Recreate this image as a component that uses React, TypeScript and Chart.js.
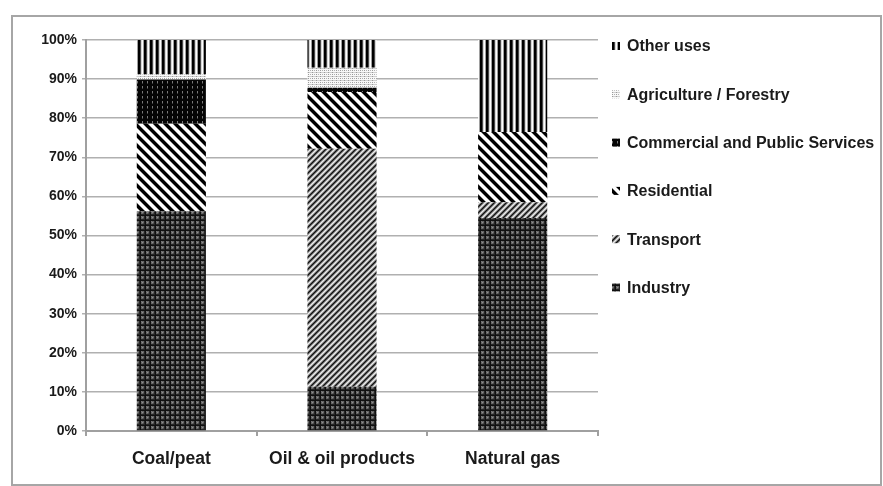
import React, { useEffect, useRef } from "react";
import { Chart, registerables } from "chart.js";

Chart.register(...registerables);

// ---- Data (percent shares of final consumption by sector) ----
const categories = ["Coal/peat", "Oil & oil products", "Natural gas"];
const seriesNames = [
  "Industry",
  "Transport",
  "Residential",
  "Commercial and Public Services",
  "Agriculture / Forestry",
  "Other uses",
];
const industry = [56.2, 11.3, 54.5];
const transport = [0, 60.9, 4.0];
const residential = [22.4, 14.5, 18.0];
const commercial = [11.3, 1.1, 0];
const agriculture = [1.3, 5.1, 0];
const otherUses = [8.8, 7.1, 23.5];
const yTickValues = [0, 10, 20, 30, 40, 50, 60, 70, 80, 90, 100];

const FONT = '"Liberation Sans", Arial, sans-serif';
const TEXT = "#1a1a1a";

type ColorFn = (x: number, y: number) => string;

function makePattern(ctx: CanvasRenderingContext2D, w: number, h: number, fn: ColorFn): CanvasPattern | string {
  const c = document.createElement("canvas");
  c.width = w;
  c.height = h;
  const g = c.getContext("2d")!;
  for (let y = 0; y < h; y++) {
    for (let x = 0; x < w; x++) {
      g.fillStyle = fn(x, y);
      g.fillRect(x, y, 1, 1);
    }
  }
  return ctx.createPattern(c, "repeat") || "#555";
}

function buildPatterns(ctx: CanvasRenderingContext2D) {
  // Industry: dark grid with gray squares
  const ind = makePattern(ctx, 5, 5, (x, y) => {
    if (x === 0 || y === 0) return "#101010";
    if (x === 4 || y === 4) return "#262626";
    if (x === 2 && y === 2) return "#8e8e8e";
    if (x === 1 && y === 1) return "#7a7a7a";
    if (x === 3 && y === 3) return "#4a4a4a";
    return "#666666";
  });
  // Transport: "/" diagonal fine stripes
  const trCols = ["#101010", "#555555", "#a8a8a8", "#eeeeee", "#bdbdbd", "#686868"];
  const tr = makePattern(ctx, 6, 6, (x, y) => trCols[(x + y) % 6]);
  // Residential: "\" broad black stripes on white
  const res = makePattern(ctx, 10, 10, (x, y) => {
    const d = (x - y + 100) % 10;
    if (d < 4) return "#000000";
    if (d === 4 || d === 9) return "#8a8a8a";
    return "#ffffff";
  });
  // Commercial: black with small gray dots
  const com = makePattern(ctx, 5, 5, (x, y) => {
    if (x === 2 && (y === 1 || y === 2)) return "#7a7a7a";
    if (x === 2 && y === 3) return "#404040";
    return "#050505";
  });
  // Agriculture: light dotted grid
  const agr = makePattern(ctx, 4, 4, (x, y) => {
    if (x === 0 && y % 2 === 0) return "#9a9a9a";
    if (y === 2 && x === 2) return "#b0b0b0";
    if (y === 0) return "#d0d0d0";
    return "#f8f8f8";
  });
  // Other uses: vertical stripes
  const othCols = ["#000000", "#000000", "#4a4a4a", "#d8d8d8", "#ffffff", "#a0a0a0"];
  const oth = makePattern(ctx, 6, 1, (x) => othCols[x]);
  return [ind, tr, res, com, agr, oth];
}

const framePlugin = {
  id: "frame",
  beforeDraw(chart: any) {
    const ctx = chart.ctx as CanvasRenderingContext2D;
    ctx.save();
    ctx.fillStyle = "#ffffff";
    ctx.fillRect(0, 0, chart.width, chart.height);
    ctx.strokeStyle = "#a6a6a6";
    ctx.lineWidth = 2;
    ctx.strokeRect(12, 16, 869, 469);
    ctx.restore();
  },
};

const sideLegendPlugin = {
  id: "sideLegend",
  afterDraw(chart: any) {
    const ctx = chart.ctx as CanvasRenderingContext2D;
    const ds = chart.data.datasets;
    const n = ds.length;
    const top = 46;
    const gap = 48.3;
    ctx.save();
    ctx.font = `bold 16px ${FONT}`;
    ctx.textBaseline = "middle";
    ctx.textAlign = "left";
    for (let i = 0; i < n; i++) {
      const d = ds[n - 1 - i];
      const cy = top + i * gap;
      ctx.fillStyle = d.backgroundColor;
      ctx.fillRect(612, cy - 4, 8, 8);
      ctx.fillStyle = TEXT;
      ctx.fillText(d.label, 627, cy + 1);
    }
    ctx.restore();
  },
};

export default function App() {
  const ref = useRef<HTMLCanvasElement | null>(null);

  useEffect(() => {
    const canvas = ref.current;
    if (!canvas) return;
    const ctx = canvas.getContext("2d")!;
    const pats = buildPatterns(ctx);
    const seriesData = [industry, transport, residential, commercial, agriculture, otherUses];

    const chart = new Chart(ctx, {
      type: "bar",
      data: {
        labels: categories,
        datasets: seriesNames.map((name, i) => ({
          label: name,
          data: seriesData[i],
          backgroundColor: pats[i] as any,
          borderWidth: 0,
          categoryPercentage: 1,
          barPercentage: 0.405,
        })),
      },
      options: {
        responsive: false,
        animation: false,
        devicePixelRatio: 1,
        layout: { padding: { top: 40, right: 285, bottom: 0, left: 0 } },
        plugins: {
          legend: { display: false },
          tooltip: { enabled: false },
        },
        scales: {
          x: {
            stacked: true,
            afterFit: (s: any) => {
              s.height = 55;
            },
            grid: {
              offset: true,
              drawOnChartArea: false,
              drawTicks: true,
              tickLength: 5,
              color: "#a0a0a0",
              lineWidth: 2,
            },
            border: { color: "#a0a0a0", width: 2 },
            ticks: {
              color: TEXT,
              padding: 13,
              font: { family: FONT, size: 17.5, weight: "bold" },
              maxRotation: 0,
            },
          },
          y: {
            stacked: true,
            min: 0,
            max: 100,
            afterFit: (s: any) => {
              s.width = 86;
            },
            afterBuildTicks: (s: any) => {
              s.ticks = yTickValues.map((v) => ({ value: v }));
            },
            grid: {
              color: "#b0b0b0",
              lineWidth: 1.5,
              drawTicks: true,
              tickLength: 4,
            },
            border: { color: "#a0a0a0", width: 2 },
            ticks: {
              color: TEXT,
              padding: 5,
              font: { family: FONT, size: 14, weight: "bold" },
              callback: (v: any) => `${v}%`,
            },
          },
        },
      },
      plugins: [framePlugin, sideLegendPlugin],
    });
    return () => chart.destroy();
  }, []);

  return (
    <div style={{ position: "fixed", left: 0, top: 0, width: 883, height: 486, background: "#fff" }}>
      <canvas ref={ref} width={883} height={486} style={{ display: "block", width: 883, height: 486 }} />
    </div>
  );
}
